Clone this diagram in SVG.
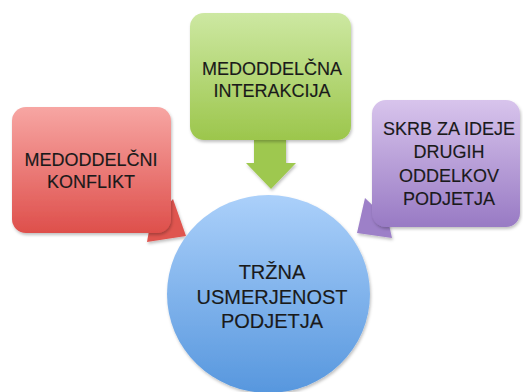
<svg xmlns="http://www.w3.org/2000/svg" width="523" height="392" viewBox="0 0 523 392">
<defs>
<linearGradient id="gRed" x1="0" y1="0" x2="0" y2="1"><stop offset="0" stop-color="#f7a6a3"/><stop offset="1" stop-color="#de4f4b"/></linearGradient>
<linearGradient id="gGreen" x1="0" y1="0" x2="0" y2="1"><stop offset="0" stop-color="#cde8a2"/><stop offset="1" stop-color="#9cc64c"/></linearGradient>
<linearGradient id="gPurple" x1="0" y1="0" x2="0" y2="1"><stop offset="0" stop-color="#d8c4ec"/><stop offset="1" stop-color="#987ac4"/></linearGradient>
<linearGradient id="gBlue" x1="0" y1="0" x2="0" y2="1"><stop offset="0" stop-color="#abd0fa"/><stop offset="1" stop-color="#5797de"/></linearGradient>
<filter id="sh" x="-10%" y="-10%" width="125%" height="125%"><feDropShadow dx="1" dy="2" stdDeviation="1.5" flood-color="#000" flood-opacity="0.25"/></filter>
</defs>
<style>
text{font-family:"Liberation Sans",Arial,sans-serif;fill:#1a1a1a;text-anchor:middle;stroke:#1a1a1a;stroke-width:0.15}
.b{font-size:18px}
.c{font-size:20px}
</style>
<rect width="523" height="392" fill="#fff"/>
<g id="connectors">
<polygon points="173,199 186,236 147,242 150,225" fill="#df5450" filter="url(#sh)"/>
<polygon points="365,198 357,233 392,238 388,220" fill="#9d80c8" filter="url(#sh)"/>
<polygon points="254,138 286,138 286,163 296,163 271,189 246,163 254,163" fill="#9ec84f" filter="url(#sh)"/>
</g>
<g id="n-konflikt">
<rect x="12" y="107" width="159" height="126" rx="14" fill="url(#gRed)" filter="url(#sh)"/>
<text class="b" x="91" y="166">MEDODDELČNI</text>
<text class="b" x="91" y="188">KONFLIKT</text>
</g>
<g id="n-interakcija">
<rect x="190" y="13" width="161" height="127" rx="14" fill="url(#gGreen)" filter="url(#sh)"/>
<text class="b" x="272" y="75">MEDODDELČNA</text>
<text class="b" x="272" y="97">INTERAKCIJA</text>
</g>
<g id="n-skrb">
<rect x="372" y="100" width="148" height="127" rx="14" fill="url(#gPurple)" filter="url(#sh)"/>
<text class="b" x="449" y="135">SKRB ZA IDEJE</text>
<text class="b" x="449" y="158">DRUGIH</text>
<text class="b" x="449" y="182">ODDELKOV</text>
<text class="b" x="449" y="205">PODJETJA</text>
</g>
<g id="n-trzna">
<ellipse cx="268.5" cy="294" rx="101.5" ry="99" fill="url(#gBlue)" filter="url(#sh)"/>
<text class="c" x="272" y="279">TRŽNA</text>
<text class="c" x="272" y="304">USMERJENOST</text>
<text class="c" x="272" y="328">PODJETJA</text>
</g>
</svg>
